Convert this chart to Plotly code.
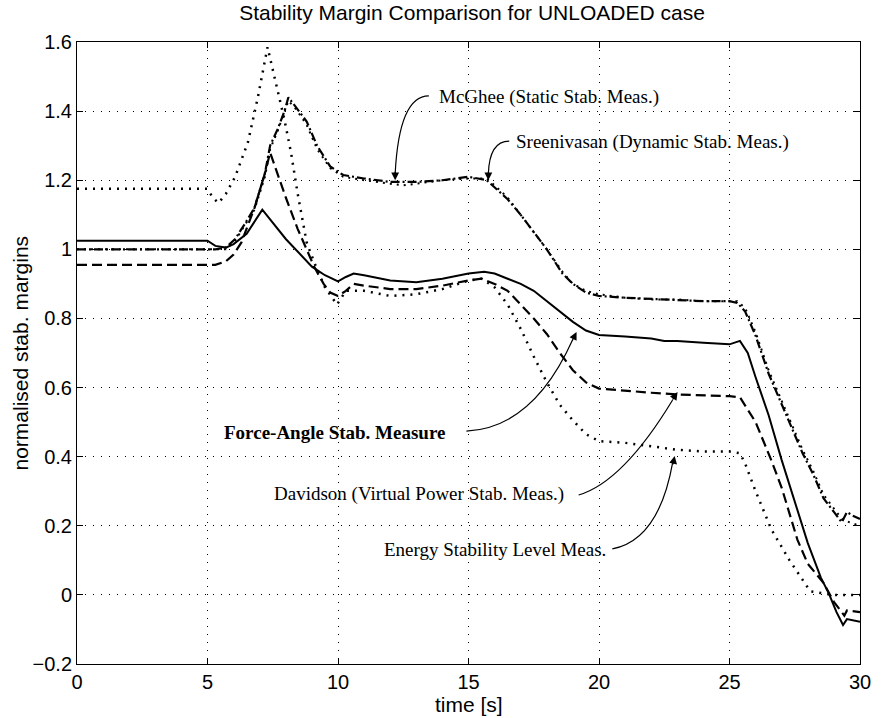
import plotly.graph_objects as go

# ---------------- data ----------------
fa_x = [0, 5, 5.3, 5.7, 6.0, 6.5, 7.1, 8.0, 9.0, 9.5, 10.0, 10.3, 10.6, 11, 12, 13, 14, 15, 15.6, 16, 16.5, 17,
        17.5, 18, 18.5, 19, 19.5, 20, 21, 22, 22.5, 23, 24, 25, 25.4, 25.7, 26, 26.5, 27, 27.5, 28, 28.5, 28.8,
        29.1, 29.35, 29.5, 30]
fa_y = [1.025, 1.025, 1.01, 1.005, 1.015, 1.045, 1.115, 1.03, 0.95, 0.925, 0.907, 0.92, 0.93, 0.925, 0.91, 0.905,
        0.915, 0.93, 0.935, 0.93, 0.915, 0.9, 0.88, 0.85, 0.82, 0.79, 0.765, 0.752, 0.748, 0.742, 0.735, 0.735,
        0.73, 0.725, 0.735, 0.70, 0.63, 0.52, 0.39, 0.27, 0.15, 0.05, 0.005, -0.05, -0.087, -0.07, -0.078]

dv_x = [0, 5.3, 5.7, 6.0, 6.3, 6.8, 7.2, 7.4, 8.0, 8.45, 9.0, 9.1, 9.45, 9.7, 10.0, 10.3, 10.6, 11, 12, 13, 14, 15,
        15.5, 16, 16.5, 17, 17.5, 18, 18.5, 19, 19.5, 20, 21, 22, 23, 24, 25, 25.4, 26, 26.6, 27, 27.6, 28, 28.6,
        29, 29.4, 29.5, 30]
dv_y = [0.955, 0.955, 0.965, 0.985, 1.02, 1.12, 1.22, 1.28, 1.15, 1.06, 0.965, 0.948, 0.9, 0.875, 0.865, 0.88, 0.9,
        0.895, 0.885, 0.885, 0.895, 0.91, 0.915, 0.9, 0.88, 0.84, 0.8, 0.755, 0.7, 0.65, 0.615, 0.597, 0.59, 0.585,
        0.58, 0.578, 0.575, 0.572, 0.5, 0.39, 0.31, 0.16, 0.09, 0.035, -0.02, -0.06, -0.045, -0.05]

sr_x = [0, 5.3, 5.7, 6.06, 6.4, 6.8, 7.2, 7.4, 7.7, 7.95, 8.1, 8.4, 8.8, 9.2, 9.7, 10.2, 11, 12, 13, 14, 15, 15.7,
        16, 16.5, 17, 17.5, 18, 18.6, 19, 19.5, 20, 21, 22, 23, 24, 25, 25.3, 25.6, 26, 26.5, 27, 27.5, 27.8, 28.2,
        28.6, 29, 29.3, 29.5, 29.7, 30]
sr_y = [1.0, 1.0, 1.005, 1.03, 1.07, 1.12, 1.22, 1.30, 1.35, 1.40, 1.44, 1.41, 1.37, 1.30, 1.24, 1.215, 1.205, 1.195,
        1.195, 1.2, 1.21, 1.2, 1.18, 1.145, 1.1, 1.05, 1.0, 0.93, 0.9, 0.875, 0.865, 0.86, 0.857, 0.855, 0.85, 0.85,
        0.845, 0.82, 0.75, 0.64, 0.55, 0.46, 0.41, 0.35, 0.28, 0.24, 0.21, 0.24, 0.23, 0.22]

mg_x = [0, 5.3, 5.7, 6.06, 6.4, 6.8, 7.2, 7.4, 7.7, 7.95, 8.1, 8.4, 8.8, 9.2, 9.7, 10.2, 11, 12, 12.5, 13, 14, 15,
        15.7, 16, 16.5, 17, 17.5, 18, 18.6, 19, 19.5, 20, 21, 22, 23, 24, 25, 25.3, 25.6, 26, 26.5, 27, 27.5, 27.8,
        28.2, 28.6, 29, 29.3, 29.6, 30]
mg_y = [1.0, 1.0, 1.0, 1.025, 1.065, 1.115, 1.21, 1.29, 1.345, 1.395, 1.43, 1.405, 1.36, 1.29, 1.235, 1.21, 1.2,
        1.19, 1.185, 1.19, 1.2, 1.205, 1.205, 1.185, 1.15, 1.1, 1.05, 1.0, 0.935, 0.9, 0.88, 0.87, 0.86, 0.855,
        0.855, 0.85, 0.85, 0.85, 0.83, 0.76, 0.65, 0.56, 0.47, 0.42, 0.36, 0.29, 0.25, 0.22, 0.21, 0.20]

es_x = [0, 5.0, 5.2, 5.42, 5.7, 6.06, 6.55, 6.93, 7.3, 7.6, 7.95, 8.2, 8.45, 8.8, 9.1, 9.5, 9.96, 10.3, 11, 12, 13,
        14, 15, 15.5, 16, 16.5, 17, 17.5, 18, 18.5, 19, 19.5, 20, 21, 22, 23, 24, 25, 25.4, 25.6, 26, 26.6, 27.3,
        28.1, 29, 30]
es_y = [1.175, 1.175, 1.15, 1.134, 1.16, 1.21, 1.31, 1.44, 1.585, 1.49, 1.374, 1.28, 1.163, 1.02, 0.96, 0.89, 0.84,
        0.88, 0.88, 0.865, 0.87, 0.885, 0.91, 0.915, 0.89, 0.84, 0.77, 0.69, 0.615, 0.55, 0.505, 0.465, 0.445,
        0.44, 0.43, 0.42, 0.415, 0.415, 0.41, 0.38, 0.3, 0.19, 0.1, 0.01, 0.0, 0.0]

x_ticks = [0, 5, 10, 15, 20, 25, 30]
y_ticks = [-0.2, 0, 0.2, 0.4, 0.6, 0.8, 1.0, 1.2, 1.4, 1.6]
y_tick_text = ["\u22120.2", "0", "0.2", "0.4", "0.6", "0.8", "1", "1.2", "1.4", "1.6"]

# ---------------- figure ----------------
fig = go.Figure()
LINE = "black"
fig.add_trace(go.Scatter(x=mg_x, y=mg_y, mode="lines", name="McGhee",
                         line=dict(color=LINE, width=2, dash="2px,5px")))
fig.add_trace(go.Scatter(x=sr_x, y=sr_y, mode="lines", name="Sreenivasan",
                         line=dict(color=LINE, width=2.2, dash="9px,3px,2px,3px")))
fig.add_trace(go.Scatter(x=es_x, y=es_y, mode="lines", name="Energy",
                         line=dict(color=LINE, width=2.5, dash="2px,6px")))
fig.add_trace(go.Scatter(x=dv_x, y=dv_y, mode="lines", name="Davidson",
                         line=dict(color=LINE, width=2.2, dash="10px,5px")))
fig.add_trace(go.Scatter(x=fa_x, y=fa_y, mode="lines", name="Force-Angle",
                         line=dict(color=LINE, width=2)))

SERIF = "Liberation Serif, Times New Roman, serif"
SANS = "Liberation Sans, Arial, Helvetica, sans-serif"

# labels: (text, x, y, anchor, bold)
labels = [
    ("McGhee (Static Stab. Meas.)", 13.78, 1.441, "left", False),
    ("Sreenivasan (Dynamic Stab. Meas.)", 16.75, 1.31, "left", False),
    ("Force-Angle Stab. Measure", 14.16, 0.471, "right", True),
    ("Davidson (Virtual Power Stab. Meas.)", 18.72, 0.292, "right", False),
    ("Energy Stability Level Meas.", 20.35, 0.13, "right", False),
]
for t, lx, ly, anc, bold in labels:
    fig.add_annotation(x=lx, y=ly, xref="x", yref="y", text=f"<b>{t}</b>" if bold else t,
                       showarrow=False, xanchor=anc, yanchor="middle",
                       font=dict(family=SERIF, size=19, color="black"))

# curved leader lines (quadratic Bezier in data coords) and arrowheads
leaders = [
    ((13.48, 1.444), (12.34, 1.444), (12.19, 1.218), (12.19, 1.200), (0, -10)),
    ((16.56, 1.313), (15.80, 1.313), (15.76, 1.218), (15.76, 1.200), (0, -10)),
    ((14.92, 0.474), (17.47, 0.483), (18.99, 0.738), (19.14, 0.761), (-5, 10)),
    ((19.22, 0.289), (20.92, 0.327), (22.82, 0.564), (23.01, 0.587), (-6, 9)),
    ((20.51, 0.133), (22.29, 0.159), (22.82, 0.382), (22.90, 0.402), (-2, 10)),
]
for p0, c, p1, tip, off in leaders:
    fig.add_shape(type="path", xref="x", yref="y",
                  path=f"M {p0[0]},{p0[1]} Q {c[0]},{c[1]} {p1[0]},{p1[1]}",
                  line=dict(color="black", width=1.2))
    fig.add_annotation(x=tip[0], y=tip[1], xref="x", yref="y", text="", showarrow=True,
                       ax=off[0], ay=off[1], arrowhead=2, arrowsize=1.3, arrowwidth=1.2,
                       arrowcolor="black", standoff=0)

fig.add_annotation(x=(19 - 77) / 790, y=0.5, xref="paper", yref="paper", text="normalised stab. margins",
                   textangle=-90, showarrow=False, xanchor="center", yanchor="middle",
                   font=dict(family=SANS, size=21, color="black"))
fig.add_annotation(x=0.5, y=(664 - 704) / 622, xref="paper", yref="paper", text="time [s]",
                   showarrow=False, xanchor="center", yanchor="middle",
                   font=dict(family=SANS, size=21, color="black"))

axis_common = dict(showline=True, linecolor="black", linewidth=1, mirror="ticks", ticks="inside",
                   ticklen=6, tickcolor="black", showgrid=True, gridcolor="black", gridwidth=1,
                   griddash="1px,7px", zeroline=False, tickfont=dict(family=SANS, size=20, color="black"))
fig.update_xaxes(range=[0, 30], tickvals=x_ticks, **axis_common)
fig.update_yaxes(range=[-0.2, 1.6], tickvals=y_ticks, ticktext=y_tick_text, **axis_common)

fig.update_layout(
    width=883, height=718, margin=dict(l=77, r=16, t=42, b=54),
    paper_bgcolor="white", plot_bgcolor="white", showlegend=False,
    title=dict(text="Stability Margin Comparison for UNLOADED case", x=(472) / 883, xanchor="center",
               y=1 - 13 / 718, yanchor="middle", font=dict(family=SANS, size=21, color="black")),
)

fig.write_html("out.html")
